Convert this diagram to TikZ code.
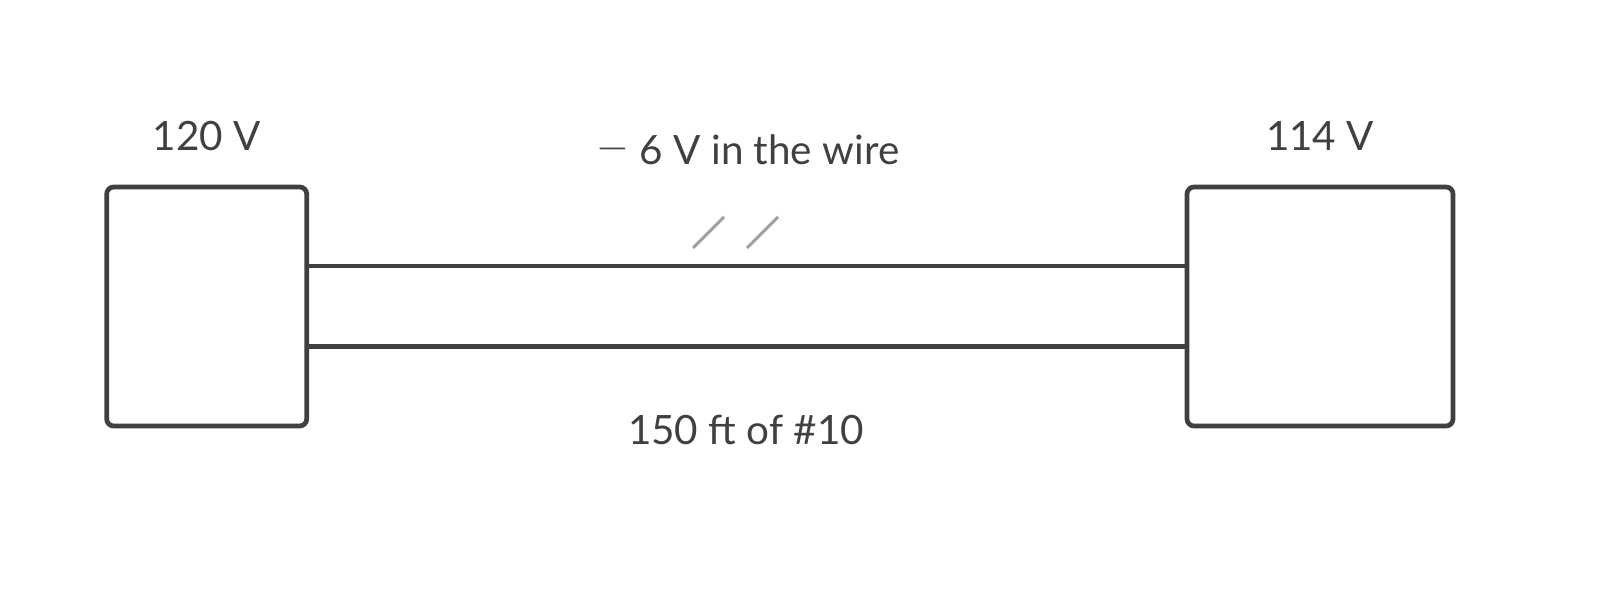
\documentclass[tikz,border=0pt]{standalone}
\usepackage{fontspec}
\setmainfont{Lato}
\definecolor{ink}{HTML}{3F3F44}
\definecolor{tick}{HTML}{A0A0A0}
\tikzset{
  panel/.style={draw=ink, line width=1.35pt, rounded corners=2pt, inner sep=0pt},
  wire/.style={draw=ink, line width=1.3pt},
  tickmark/.style={draw=tick, line width=0.9pt},
  lbl/.style={text=ink, font=\fontsize{11.5}{13}\selectfont}
}

\begin{document}
\begin{tikzpicture}
    \useasboundingbox (0,0) rectangle (16,-6.13);
    % the two boxes
    \node[panel, minimum width=2cm, minimum height=2.39cm] (src) at (2.067,-3.065) {};
    \node[panel, minimum width=2.66cm, minimum height=2.39cm] (load) at (13.2,-3.065) {};
    % voltages
    \node[lbl] (vsrc) at (2.07,-1.36) {120 V};
    \node[lbl] (vload) at (13.2,-1.36) {114 V};
    \node[lbl] (drop) at (7.48,-1.5) {\raisebox{0.25ex}{$-$} 6 V in the wire};
    \node[lbl] (len) at (7.46,-4.3) {150 ft of \#10};
    % the wire pair
    \coordinate (top) at (0,-2.66);
    \coordinate (bot) at (0,-3.465);
    \draw[wire] (src.east |- top) -- (load.west |- top);
    \draw[wire] (src.east |- bot) -- (load.west |- bot);
    % two conductors
    \foreach \x in {6.93,7.47}
      \draw[tickmark] (\x,-2.48) -- ++(0.31,0.31);
  \end{tikzpicture}
\end{document}
